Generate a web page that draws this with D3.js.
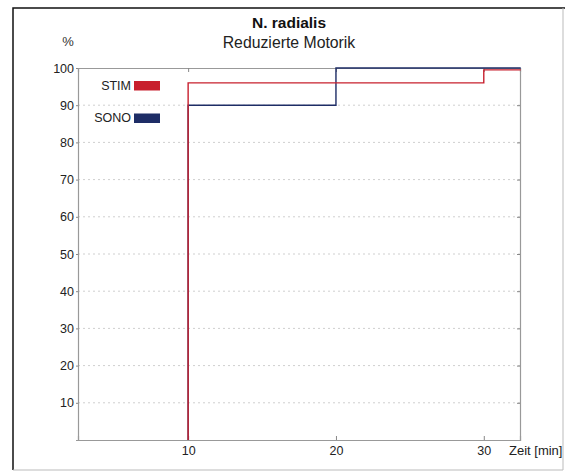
<!DOCTYPE html>
<html>
<head>
<meta charset="utf-8">
<script src="https://cdn.jsdelivr.net/npm/d3@7"></script>
<style>
  body { margin: 0; background: #fff; }
  text { font-family: "Liberation Sans", Arial, sans-serif; }
</style>
</head>
<body>
<svg id="chart"></svg>
<script>
// N. radialis – Reduzierte Motorik, kumulativer Anteil über die Zeit

const svg_w = 565;
const svg_h = 474;

// Plotbereich (Pixel)
const margin = {l:78, r:45, t:68, b:34};
const viz_w = svg_w - margin.l - margin.r;
const viz_h = svg_h - margin.t - margin.b;

// Daten
const series_names = ["STIM", "SONO"];
const series_colors = ["#c8202e", "#1e2d66"];
const stim_steps = [[10, 0], [10, 96], [30, 96], [30, 99.5], [32.5, 99.5]];
const sono_steps = [[10, 0], [10, 90], [20, 90], [20, 100], [32.5, 100]];
const x_ticks = [10, 20, 30];
const y_ticks = [10, 20, 30, 40, 50, 60, 70, 80, 90, 100];

let svg = d3.select("#chart")
  .attr("width", svg_w)
  .attr("height", svg_h);

// Rahmen (eingesenkt)
svg.append("path")
  .attr("d", `M13,470 V8 H565`)
  .attr("fill", "none")
  .attr("stroke", "#111")
  .attr("stroke-width", 1.5);
svg.append("path")
  .attr("d", `M13,470 H563 V8`)
  .attr("fill", "none")
  .attr("stroke", "#bbb")
  .attr("stroke-width", 1);

let x_scale = d3.scaleLinear()
  .domain([2.55, 32.45])
  .range([0, viz_w]);

let y_scale = d3.scaleLinear()
  .domain([0, 100])
  .range([viz_h, 0]);

let g = svg.append("g")
  .attr("transform", `translate(${margin.l},${margin.t})`);

// Gitterlinien
g.append("g")
  .selectAll("line")
  .data(y_ticks.filter(d => d < 100))
  .enter().append("line")
  .attr("x1", 0)
  .attr("x2", viz_w)
  .attr("y1", d => y_scale(d))
  .attr("y2", d => y_scale(d))
  .attr("stroke", "#cfcfcf")
  .attr("stroke-dasharray", "2,3");

// Achsen
let ax_left = g.append("g")
  .call(d3.axisLeft(y_scale).tickValues(y_ticks).tickSize(2).tickPadding(2));
let ax_right = g.append("g")
  .attr("transform", `translate(${viz_w},0)`)
  .call(d3.axisRight(y_scale).tickValues(y_ticks).tickSize(-3).tickFormat(""));
let ax_bottom = g.append("g")
  .attr("transform", `translate(0,${viz_h})`)
  .call(d3.axisBottom(x_scale).tickValues(x_ticks).tickSize(-4).tickPadding(6));
let ax_top = g.append("g")
  .call(d3.axisTop(x_scale).tickValues(x_ticks).tickSize(-4).tickFormat(""));

[ax_left, ax_right, ax_bottom, ax_top].forEach(a => {
  a.select(".domain").attr("stroke", "#999").attr("stroke-width", 1.2);
  a.selectAll(".tick line").attr("stroke", "#888");
  a.selectAll(".tick text")
    .attr("font-size", 12.5)
    .attr("fill", "#222")
    .style("font-family", "Liberation Sans, Arial, sans-serif");
});

// Treppenkurven
let line = d3.line()
  .x(d => x_scale(d[0]))
  .y(d => y_scale(d[1]));

g.append("path")
  .datum(sono_steps)
  .attr("d", line)
  .attr("fill", "none")
  .attr("stroke", series_colors[1])
  .attr("stroke-width", 1.4);

g.append("path")
  .datum(stim_steps)
  .attr("d", line)
  .attr("fill", "none")
  .attr("stroke", series_colors[0])
  .attr("stroke-width", 1.4);

// Legende
let legend = svg.append("g")
  .selectAll("g")
  .data(series_names)
  .enter().append("g")
  .attr("transform", (d, i) => `translate(134,${81 + i * 32.5})`);

legend.append("rect")
  .attr("width", 26)
  .attr("height", 9.5)
  .attr("fill", (d, i) => series_colors[i]);

legend.append("text")
  .attr("x", -3)
  .attr("y", 8.8)
  .attr("text-anchor", "end")
  .attr("font-size", 12.5)
  .attr("fill", "#222")
  .text(d => d);

// Titel und Beschriftungen
svg.append("text")
  .attr("x", 289)
  .attr("y", 28)
  .attr("text-anchor", "middle")
  .attr("font-size", 15.5)
  .attr("font-weight", "bold")
  .attr("fill", "#111")
  .text("N. radialis");

svg.append("text")
  .attr("x", 289)
  .attr("y", 47.5)
  .attr("text-anchor", "middle")
  .attr("font-size", 15.8)
  .attr("fill", "#222")
  .text("Reduzierte Motorik");

svg.append("text")
  .attr("x", 68)
  .attr("y", 46)
  .attr("text-anchor", "middle")
  .attr("font-size", 13)
  .attr("fill", "#333")
  .text("%");

svg.append("text")
  .attr("x", 509)
  .attr("y", 455)
  .attr("font-size", 13)
  .attr("fill", "#222")
  .text("Zeit [min]");
</script>
</body>
</html>
